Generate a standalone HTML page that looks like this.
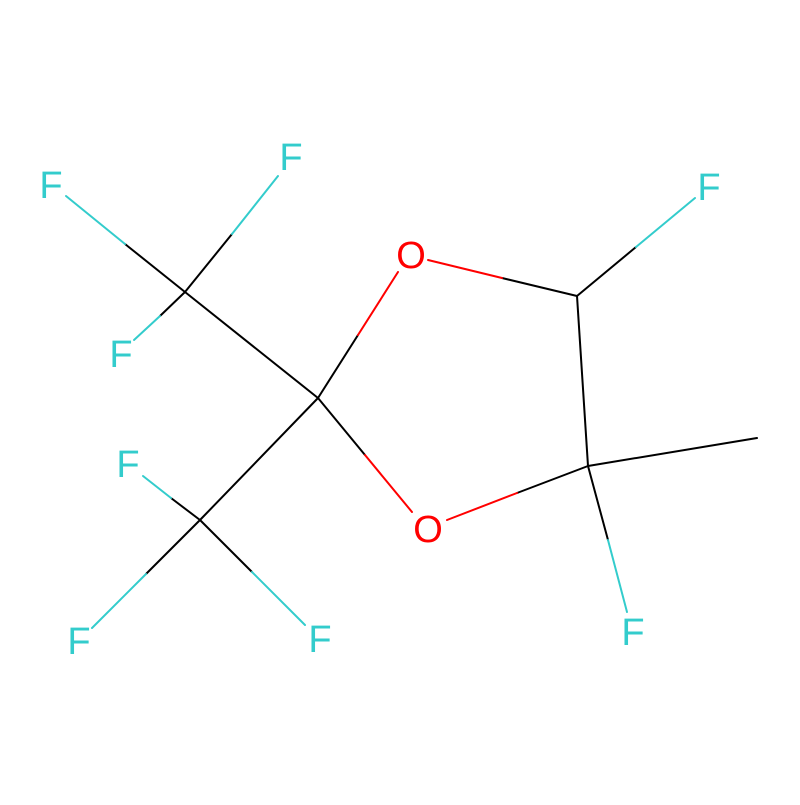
<!DOCTYPE html>
<html><head><meta charset="utf-8"><style>html,body{margin:0;padding:0;background:#fff}</style></head>
<body>
<svg width="800" height="800" viewBox="0 0 800 800" xmlns="http://www.w3.org/2000/svg">
<rect width="800" height="800" fill="#fff"/>
<g stroke-width="2" stroke-linecap="round" fill="none">
<!-- black parts -->
<g stroke="#000">
<line x1="318" y1="398" x2="358" y2="335"/>
<line x1="577" y1="296" x2="502" y2="278"/>
<line x1="318" y1="398" x2="365" y2="455"/>
<line x1="588" y1="466" x2="517" y2="493"/>
<line x1="577" y1="296" x2="636" y2="247"/>
<line x1="588" y1="466" x2="608" y2="540"/>
<line x1="588" y1="466" x2="757" y2="438"/>
<line x1="577" y1="296" x2="588" y2="466"/>
<line x1="318" y1="398" x2="185" y2="292"/>
<line x1="318" y1="398" x2="200" y2="520"/>
<line x1="185" y1="292" x2="232" y2="234"/>
<line x1="185" y1="292" x2="125" y2="244"/>
<line x1="185" y1="292" x2="160" y2="316"/>
<line x1="200" y1="520" x2="171" y2="498"/>
<line x1="200" y1="520" x2="146" y2="574"/>
<line x1="200" y1="520" x2="252" y2="572"/>
</g>
<g stroke="#FF0000">
<line x1="358" y1="335" x2="398" y2="272"/>
<line x1="502" y1="278" x2="428" y2="260"/>
<line x1="365" y1="455" x2="412" y2="512"/>
<line x1="517" y1="493" x2="447" y2="520"/>
</g>
<g stroke="#33CCCC">
<line x1="636" y1="247" x2="695" y2="198"/>
<line x1="608" y1="540" x2="627" y2="612"/>
<line x1="232" y1="234" x2="278" y2="176"/>
<line x1="125" y1="244" x2="66" y2="196"/>
<line x1="160" y1="316" x2="134" y2="340"/>
<line x1="171" y1="498" x2="143" y2="476"/>
<line x1="146" y1="574" x2="92" y2="628"/>
<line x1="252" y1="572" x2="305" y2="625"/>
</g>
</g>
<g font-family="'Liberation Sans', sans-serif" font-size="38" text-anchor="middle" dominant-baseline="central">
<text x="411" y="256" fill="#FF0000">O</text>
<text x="428" y="530" fill="#FF0000">O</text>
<g fill="#33CCCC">
<text x="709" y="188">F</text>
<text x="633" y="633">F</text>
<text x="291" y="158">F</text>
<text x="51" y="186">F</text>
<text x="121" y="355">F</text>
<text x="128" y="465">F</text>
<text x="79" y="642">F</text>
<text x="320" y="640">F</text>
</g>
</g>
</svg>
</body></html>
